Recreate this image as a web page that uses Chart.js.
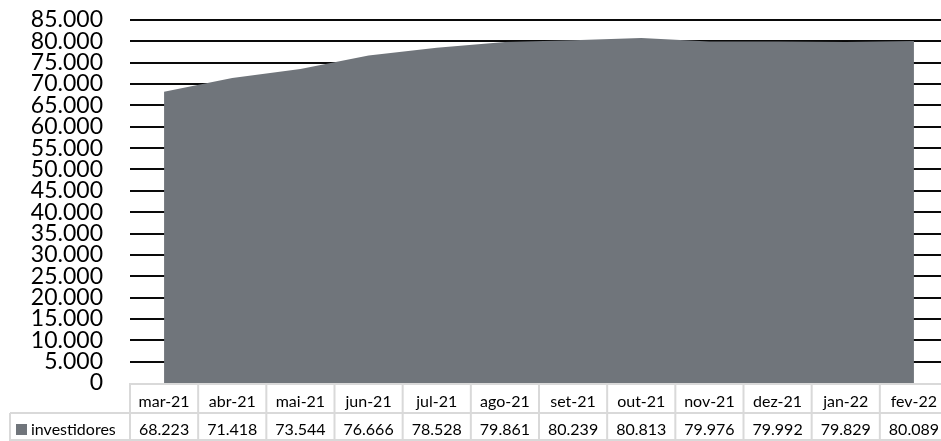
<!DOCTYPE html>
<html>
<head>
<meta charset="utf-8">
<script src="https://cdn.jsdelivr.net/npm/chart.js@4/dist/chart.umd.min.js"></script>
<style>
  html, body { margin: 0; padding: 0; background: #fff; overflow: hidden; }
  #wrap { position: relative; width: 948px; height: 441px; }
</style>
</head>
<body>
<div id="wrap"><canvas id="chart"></canvas></div>
<script>
// Monthly investor counts
const categories = ['mar-21', 'abr-21', 'mai-21', 'jun-21', 'jul-21', 'ago-21',
                    'set-21', 'out-21', 'nov-21', 'dez-21', 'jan-22', 'fev-22'];
const investidores = [68223, 71418, 73544, 76666, 78528, 79861,
                      80239, 80813, 79976, 79992, 79829, 80089];
const seriesName = 'investidores';
const yMax = 85000;
const yStep = 5000;

const AREA_COLOR = '#70757b';
const TABLE_LINE = '#d9d9d9';
const FONT = 'Lato, "Open Sans", sans-serif';

// thousands separator as a dot
function fmt(v) {
  return String(v).replace(/\B(?=(\d{3})+(?!\d))/g, '.');
}

// Data table under the x axis: cell borders, legend key and value row
const dataTablePlugin = {
  id: 'dataTable',
  afterDraw(chart) {
    const { ctx, chartArea, scales } = chart;
    const x = scales.x;
    const top = chartArea.bottom;
    const rowSplit = top + 30;
    const bottom = chart.height;
    const legendLeft = 10;
    const n = categories.length;

    const edges = [chartArea.left];
    for (let i = 0; i < n - 1; i++) {
      edges.push((x.getPixelForValue(i) + x.getPixelForValue(i + 1)) / 2);
    }
    edges.push(chartArea.right);

    ctx.save();
    ctx.strokeStyle = TABLE_LINE;
    ctx.lineWidth = 2;
    ctx.beginPath();
    // horizontal borders
    ctx.moveTo(chartArea.left, top + 1); ctx.lineTo(chartArea.right, top + 1);
    ctx.moveTo(legendLeft, rowSplit); ctx.lineTo(chartArea.right, rowSplit);
    ctx.moveTo(legendLeft, bottom - 1); ctx.lineTo(chartArea.right, bottom - 1);
    // vertical borders
    edges.forEach(e => { ctx.moveTo(e, top); ctx.lineTo(e, bottom); });
    ctx.moveTo(legendLeft, rowSplit); ctx.lineTo(legendLeft, bottom);
    ctx.stroke();

    const rowMid = (rowSplit + bottom) / 2 + 3;
    // legend key
    ctx.fillStyle = AREA_COLOR;
    ctx.fillRect(16, rowMid - 6, 11, 11);
    ctx.fillStyle = '#000';
    ctx.font = '16px ' + FONT;
    ctx.textBaseline = 'middle';
    ctx.textAlign = 'left';
    ctx.fillText(seriesName, 31, rowMid);
    // values
    ctx.textAlign = 'center';
    investidores.forEach((v, i) => {
      ctx.fillText(fmt(v), x.getPixelForValue(i), rowMid);
    });
    ctx.restore();
  }
};

new Chart(document.getElementById('chart'), {
  type: 'line',
  data: {
    labels: categories,
    datasets: [{
      label: seriesName,
      data: investidores,
      fill: 'origin',
      backgroundColor: AREA_COLOR,
      borderWidth: 0,
      pointRadius: 0,
      tension: 0
    }]
  },
  options: {
    responsive: true,
    maintainAspectRatio: false,
    animation: false,
    layout: { padding: { top: 20, left: 0, right: 0, bottom: 0 } },
    plugins: {
      legend: { display: false },
      tooltip: { enabled: false }
    },
    scales: {
      x: {
        type: 'category',
        offset: true,
        grid: { display: false, offset: true },
        border: { display: false },
        ticks: {
          color: '#000',
          font: { family: FONT, size: 16 },
          padding: 1,
          maxRotation: 0,
          autoSkip: false
        },
        afterFit(scale) {
          scale.height = 58;
          scale.paddingLeft = 0;
          scale.paddingRight = 0;
        }
      },
      y: {
        min: 0,
        max: yMax,
        grid: {
          drawTicks: false,
          lineWidth: 2,
          color: c => (c.tick && c.tick.value === 0 ? 'rgba(0,0,0,0)' : '#0a0a0a')
        },
        border: { display: false },
        ticks: {
          stepSize: yStep,
          autoSkip: false,
          color: '#000',
          font: { family: FONT, size: 23, lineHeight: 1 },
          padding: 27,
          callback: v => fmt(v)
        },
        afterFit(scale) {
          scale.width = 130;
          scale.paddingTop = 0;
          scale.paddingBottom = 0;
        }
      }
    }
  },
  plugins: [dataTablePlugin]
});
</script>
</body>
</html>
